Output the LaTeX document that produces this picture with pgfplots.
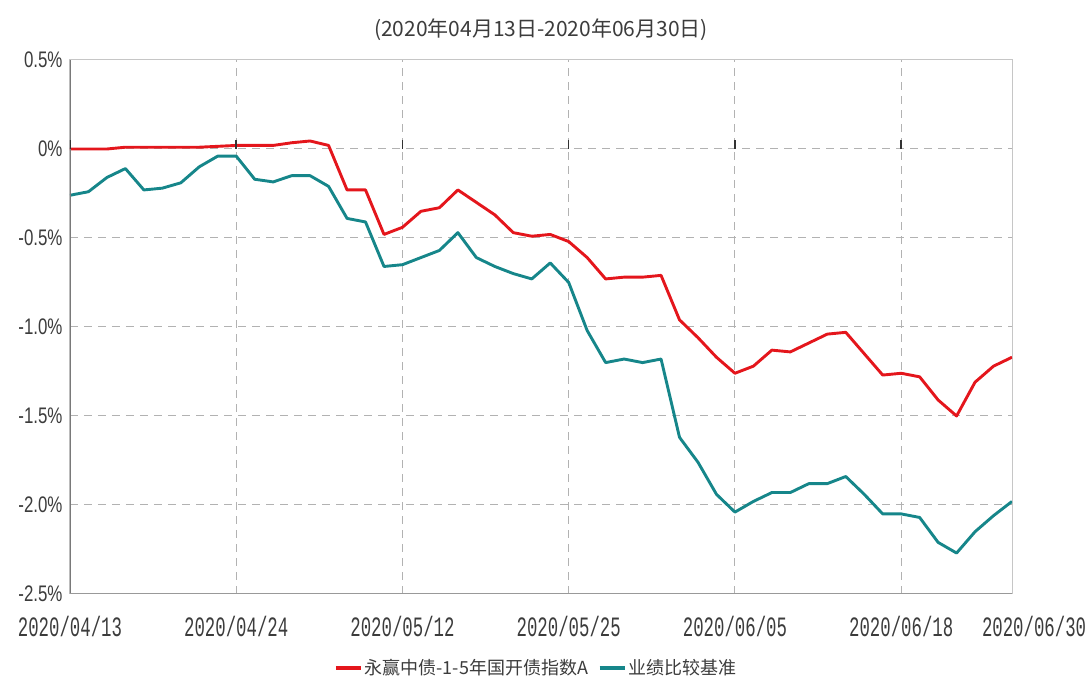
\documentclass[border=0pt]{standalone}
\usepackage{pgfplots}
\pgfplotsset{compat=1.18}
\usepackage{pgfplotstable}
\usepackage{fontspec}
\setmainfont{Liberation Sans}
\newfontfamily\yfont{Liberation Sans}[FakeStretch=0.75]
\newfontfamily\xfont{Liberation Mono}[FakeStretch=0.62]
\newfontfamily\cjk{Noto Sans CJK SC}
\definecolor{fundred}{RGB}{228,22,28}
\definecolor{benchteal}{RGB}{22,134,138}
\definecolor{txt}{RGB}{60,60,60}
\pgfplotstableread{
x y
0 0
1 0
2 0
3 0.01
4 0.01
5 0.01
6 0.01
7 0.01
8 0.015
9 0.02
10 0.02
11 0.02
12 0.035
13 0.045
14 0.02
15 -0.23
16 -0.23
17 -0.48
18 -0.44
19 -0.35
20 -0.33
21 -0.23
22 -0.30
23 -0.37
24 -0.47
25 -0.49
26 -0.48
27 -0.52
28 -0.61
29 -0.73
30 -0.72
31 -0.72
32 -0.71
33 -0.96
34 -1.06
35 -1.17
36 -1.26
37 -1.22
38 -1.13
39 -1.14
40 -1.09
41 -1.04
42 -1.03
43 -1.15
44 -1.27
45 -1.26
46 -1.28
47 -1.41
48 -1.50
49 -1.31
50 -1.22
51 -1.17
}\fund
\pgfplotstableread{
x y
0 -0.26
1 -0.24
2 -0.16
3 -0.11
4 -0.23
5 -0.22
6 -0.19
7 -0.10
8 -0.04
9 -0.04
10 -0.17
11 -0.185
12 -0.15
13 -0.15
14 -0.21
15 -0.39
16 -0.41
17 -0.66
18 -0.65
19 -0.61
20 -0.57
21 -0.47
22 -0.61
23 -0.66
24 -0.70
25 -0.73
26 -0.64
27 -0.75
28 -1.02
29 -1.20
30 -1.18
31 -1.20
32 -1.18
33 -1.62
34 -1.76
35 -1.94
36 -2.04
37 -1.98
38 -1.93
39 -1.93
40 -1.88
41 -1.88
42 -1.84
43 -1.94
44 -2.05
45 -2.05
46 -2.07
47 -2.21
48 -2.27
49 -2.15
50 -2.06
51 -1.98
}\bench
\begin{document}
\begin{tikzpicture}[x=1pt,y=1pt]
\useasboundingbox (-70,-93) rectangle (1018,594);
\begin{axis}[
  at={(0,0)}, anchor=south west,
  scale only axis, width=942pt, height=534pt,
  xmin=0, xmax=51, ymin=-2.5, ymax=0.5,
  xtick={0,9,18,27,36,45,51},
  xticklabels={2020/04/13,2020/04/24,2020/05/12,2020/05/25,2020/06/05,2020/06/18,{\makebox[0pt][l]{\hspace*{-30pt}2020/06/30}}},
  ytick={-2.5,-2,-1.5,-1,-0.5,0,0.5},
  yticklabels={-2.5\%,-2.0\%,-1.5\%,-1.0\%,-0.5\%,0\%,0.5\%},
  tick style={draw=none},
  xticklabel style={font=\xfont\fontsize{28}{30}\selectfont, text=txt, yshift=-19pt},
  yticklabel style={font=\yfont\fontsize{22.5}{24}\selectfont, text=txt, xshift=-4pt},
  grid=major,
  major grid style={gray!60, line width=1pt, dash pattern=on 8pt off 6pt},
  axis line style={gray!45, line width=1pt},
  legend columns=2,
  legend style={draw=none, fill=none, at={(0.495,-0.1386)}, anchor=center,
    font=\cjk\fontsize{18}{20}\selectfont, text=txt,
    /tikz/every even column/.append style={column sep=8pt}},
  legend image code/.code={\draw[#1, line width=3.2pt] (0pt,0pt) -- (25pt,0pt);},
]
\addplot[fundred, line width=2.9pt, line join=round] table[x=x,y=y] {\fund};
\addlegendentry{永赢中债-1-5年国开债指数A}
\addplot[benchteal, line width=2.9pt, line join=round] table[x=x,y=y] {\bench};
\addlegendentry{业绩比较基准}
\draw[gray!95!black, line width=2pt] (rel axis cs:0,0) -- (rel axis cs:0,1);
\draw[gray!80, line width=1.5pt] (rel axis cs:0,0) -- (rel axis cs:1,0);
\pgfplotsinvokeforeach{0,9,18,27,36,45}{
  \draw[black!80, line width=1.5pt] (axis cs:#1,0) -- ++(0pt,9pt);
}
\end{axis}
\node[font=\cjk\fontsize{21}{24}\selectfont, text=txt] at (471,564) {(2020年04月13日-2020年06月30日)};
\end{tikzpicture}
\end{document}
